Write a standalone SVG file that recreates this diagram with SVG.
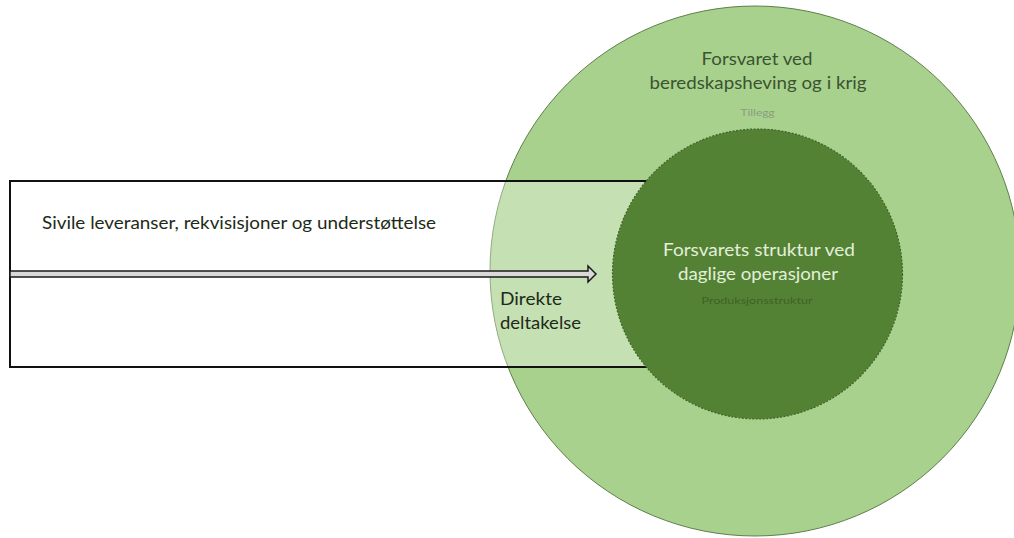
<svg xmlns="http://www.w3.org/2000/svg" width="1014" height="538" viewBox="0 0 1014 538">
  <style>
    text { font-family: "Lato", "Liberation Sans", sans-serif; }
    .big { font-size: 16.5px; }
    .small { font-size: 9.5px; }
    .dark { fill: #1e2a18; }
    .outerT { fill: #3a5430; }
    .innerT { fill: #e2efd9; }
  </style>
  <rect width="1014" height="538" fill="#ffffff"/>
  <g id="node-outer">
    <circle cx="755" cy="271" r="265" fill="#a9d18e" stroke="#5f7f4a" stroke-width="1"/>
    <text class="big outerT" x="757" y="65" text-anchor="middle" textLength="111" lengthAdjust="spacingAndGlyphs">Forsvaret ved</text>
    <text class="big outerT" x="758" y="89" text-anchor="middle" textLength="217" lengthAdjust="spacingAndGlyphs">beredskapsheving og i krig</text>
    <text class="small" x="757.5" y="116" text-anchor="middle" fill="#8a9b80" textLength="34" lengthAdjust="spacingAndGlyphs">Tillegg</text>
  </g>
  <g id="node-civil">
    <rect x="10" y="181" width="747" height="186" fill="#ffffff" fill-opacity="0.33" stroke="#111111" stroke-width="2"/>
    <text class="big dark" x="42" y="229" textLength="394" lengthAdjust="spacingAndGlyphs">Sivile leveranser, rekvisisjoner og understøttelse</text>
    <text class="big dark" x="500" y="305" textLength="62" lengthAdjust="spacingAndGlyphs">Direkte</text>
    <text class="big dark" x="500" y="329" textLength="81" lengthAdjust="spacingAndGlyphs">deltakelse</text>
  </g>
  <g id="connectors">
    <polygon points="10,271 588,271 588,266 596,274 588,282 588,277 10,277" fill="#d9d9d9" stroke="#1a1a1a" stroke-width="1.5" stroke-linejoin="miter"/>
  </g>
  <g id="node-inner">
    <circle cx="757.5" cy="274" r="145" fill="#548235" stroke="#3d6426" stroke-width="1.2" stroke-dasharray="2 1.5"/>
    <text class="big innerT" x="759" y="256" text-anchor="middle" textLength="192" lengthAdjust="spacingAndGlyphs">Forsvarets struktur ved</text>
    <text class="big innerT" x="758" y="280" text-anchor="middle" textLength="160" lengthAdjust="spacingAndGlyphs">daglige operasjoner</text>
    <text class="small" x="757" y="304" text-anchor="middle" fill="#3c6226" textLength="111" lengthAdjust="spacingAndGlyphs">Produksjonsstruktur</text>
  </g>
</svg>
